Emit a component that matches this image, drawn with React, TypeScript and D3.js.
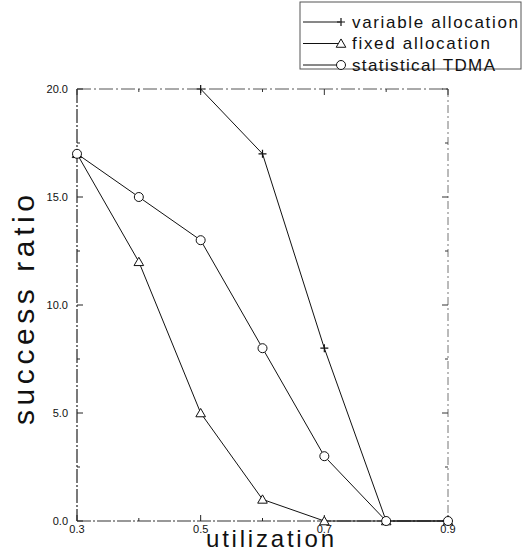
import React, {useEffect, useRef} from "react";
import * as d3 from "d3";

const utilization = [0.3, 0.4, 0.5, 0.6, 0.7, 0.8, 0.9];
const variableAlloc = [null, null, 20, 17, 8, 0, null];
const fixedAlloc = [17, 12, 5, 1, 0, 0, 0];
const statTdma = [17, 15, 13, 8, 3, 0, 0];
const seriesNames = ["variable allocation", "fixed allocation", "statistical TDMA"];
const legendWidths = [166, 138, 143];
const xTickLabels = [0.3, 0.5, 0.7, 0.9];
const yTickLabels = [0, 5, 10, 15, 20];

const FONT = "Liberation Sans, Arial, sans-serif";

function drawMarker(g: any, kind: string, cx: number, cy: number) {
  if (kind === "plus") {
    g.append("path")
      .attr("d", `M${cx - 4},${cy}H${cx + 4}M${cx},${cy - 4}V${cy + 4}`)
      .attr("stroke", "#111")
      .attr("stroke-width", 1.2);
  } else if (kind === "tri") {
    g.append("path")
      .attr("d", d3.symbol(d3.symbolTriangle, 40)())
      .attr("transform", `translate(${cx},${cy + 1})`)
      .attr("fill", "white")
      .attr("stroke", "#111")
      .attr("stroke-width", 1);
  } else {
    g.append("circle")
      .attr("cx", cx)
      .attr("cy", cy)
      .attr("r", 4.5)
      .attr("fill", "white")
      .attr("stroke", "#111")
      .attr("stroke-width", 1);
  }
}

function createChart(el: SVGSVGElement) {
  const svg = d3.select(el);
  svg.selectAll("*").remove();
  const left = 77, right = 448, top = 89, bottom = 521;

  const x = d3.scaleLinear().domain([0.3, 0.9]).range([left, right]);
  const y = d3.scaleLinear().domain([0, 20]).range([bottom, top]);

  // frame, dash-dotted like the scanned plot
  svg.append("line").attr("x1", left).attr("x2", left).attr("y1", top).attr("y2", bottom)
    .attr("stroke", "#222").attr("stroke-width", 1.2).attr("stroke-dasharray", "14,2,2,2");
  svg.append("line").attr("x1", left).attr("x2", right).attr("y1", bottom).attr("y2", bottom)
    .attr("stroke", "#333").attr("stroke-width", 1.1).attr("stroke-dasharray", "14,2,2,2");
  svg.append("line").attr("x1", left).attr("x2", right).attr("y1", top).attr("y2", top)
    .attr("stroke", "#555").attr("stroke-width", 1).attr("stroke-dasharray", "14,3,2,3");
  svg.append("line").attr("x1", right).attr("x2", right).attr("y1", top).attr("y2", bottom)
    .attr("stroke", "#777").attr("stroke-width", 1).attr("stroke-dasharray", "8,3,2,3");

  // y ticks
  const yTicks = d3.range(0, 20.01, 2.5);
  yTicks.forEach((t) => {
    const major = t % 5 === 0;
    const len = major ? 6 : 3;
    svg.append("line").attr("x1", left).attr("x2", left + len).attr("y1", y(t)).attr("y2", y(t))
      .attr("stroke", "#222");
    svg.append("line").attr("x1", right).attr("x2", right - len).attr("y1", y(t)).attr("y2", y(t))
      .attr("stroke", "#333");
  });
  svg.append("g").selectAll("text").data(yTickLabels).enter().append("text")
    .attr("x", left - 9).attr("y", (d) => y(d)).attr("dy", "0.35em")
    .attr("text-anchor", "end").attr("font-family", FONT)
    .attr("font-size", 11).attr("fill", "#111")
    .text((d) => d.toFixed(1));

  // x ticks
  utilization.forEach((t, i) => {
    const len = i % 2 === 0 ? 6 : 3;
    svg.append("line").attr("x1", x(t)).attr("x2", x(t)).attr("y1", bottom).attr("y2", bottom - len)
      .attr("stroke", "#222");
    svg.append("line").attr("x1", x(t)).attr("x2", x(t)).attr("y1", top).attr("y2", top + len)
      .attr("stroke", "#333");
  });
  svg.append("g").selectAll("text").data(xTickLabels).enter().append("text")
    .attr("x", (d) => x(d)).attr("y", bottom + 12)
    .attr("text-anchor", "middle").attr("font-family", FONT)
    .attr("font-size", 11).attr("fill", "#111")
    .text((d) => d.toFixed(1));

  // axis titles, sized to the scan's wide type
  svg.append("text").attr("x", 270).attr("y", 547).attr("text-anchor", "middle")
    .attr("font-family", FONT).attr("font-size", 24)
    .attr("textLength", 128).attr("lengthAdjust", "spacing")
    .attr("fill", "#111").text("utilization");
  svg.append("text").attr("transform", `translate(34,310) rotate(-90)`)
    .attr("text-anchor", "middle")
    .attr("font-family", FONT).attr("font-size", 30)
    .attr("textLength", 230).attr("lengthAdjust", "spacing")
    .attr("fill", "#111").text("success ratio");

  const all = [variableAlloc, fixedAlloc, statTdma];
  const kinds = ["plus", "tri", "circ"];
  const line = d3.line<any>()
    .defined((d) => d.v !== null)
    .x((d) => x(d.u))
    .y((d) => y(d.v));

  all.forEach((vals) => {
    const pts = utilization.map((u, i) => ({u, v: vals[i]}));
    svg.append("path").datum(pts).attr("d", line).attr("fill", "none")
      .attr("stroke", "#111").attr("stroke-width", 1);
  });
  all.forEach((vals, si) => {
    const g = svg.append("g");
    utilization.forEach((u, i) => {
      if (vals[i] !== null) drawMarker(g, kinds[si], x(u), y(vals[i] as number));
    });
  });

  // legend
  const lg = svg.append("g");
  lg.append("rect").attr("x", 300).attr("y", 2).attr("width", 221).attr("height", 67)
    .attr("fill", "white").attr("stroke", "#555").attr("stroke-width", 1);
  seriesNames.forEach((name, i) => {
    const ly = 22 + i * 21.5;
    lg.append("line").attr("x1", 303).attr("x2", 340).attr("y1", ly).attr("y2", ly)
      .attr("stroke", "#111").attr("stroke-width", 1);
    drawMarker(lg, kinds[i], 341, ly);
    lg.append("text").attr("x", 352).attr("y", ly).attr("dy", "0.35em")
      .attr("font-family", FONT).attr("font-size", 17)
      .attr("textLength", legendWidths[i]).attr("lengthAdjust", "spacing")
      .attr("fill", "#111").text(name);
  });
}

export default function App() {
  const ref = useRef<SVGSVGElement>(null);
  useEffect(() => {
    if (ref.current) createChart(ref.current);
  }, []);
  return (
    <svg ref={ref} width={527} height={552}
      style={{position: "absolute", left: 0, top: 0, background: "white"}} />
  );
}
